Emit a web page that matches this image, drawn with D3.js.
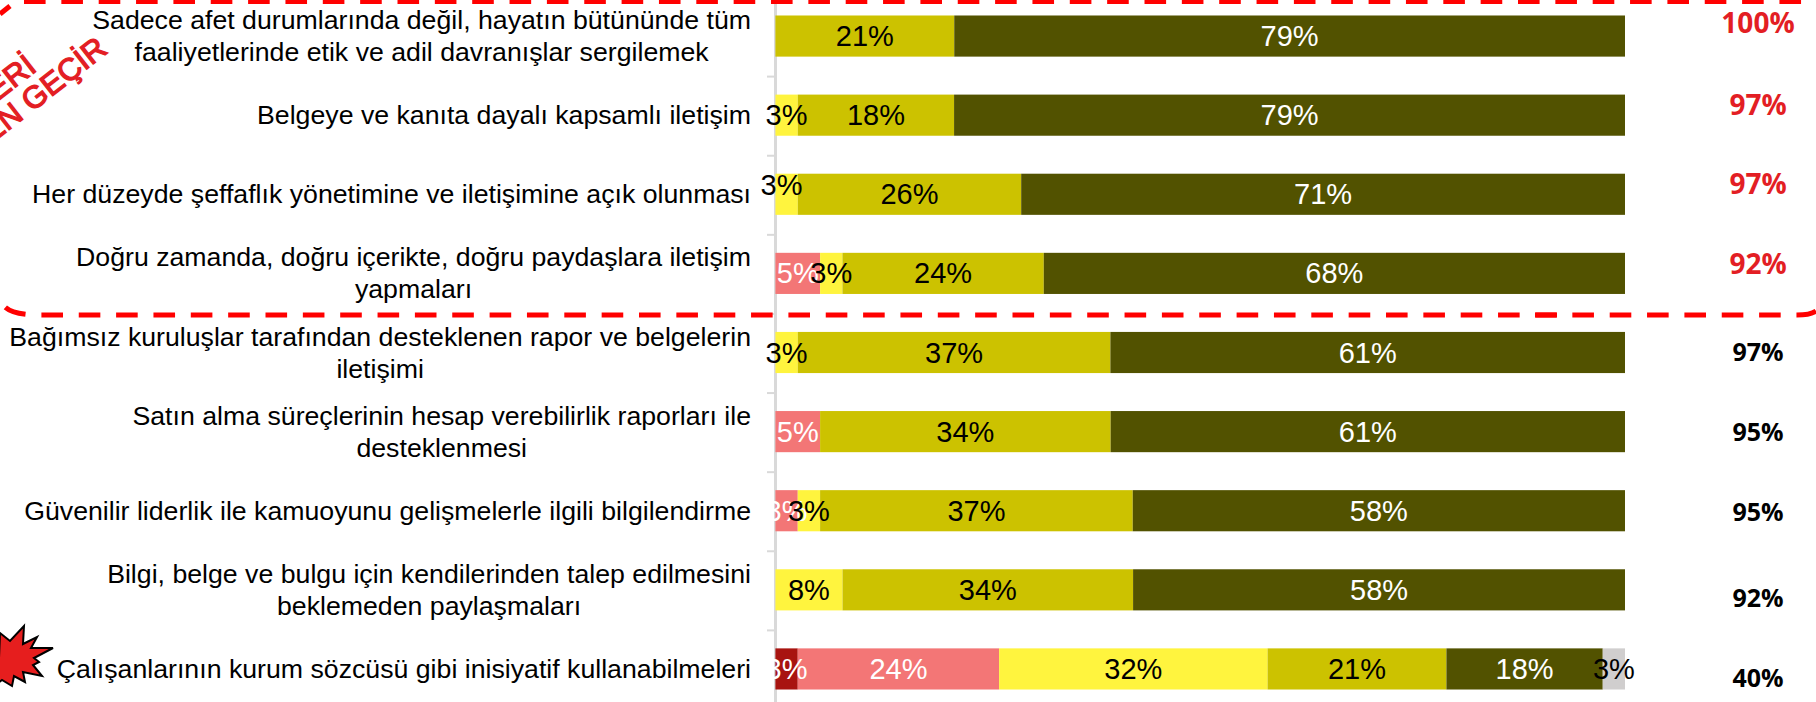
<!DOCTYPE html>
<html><head><meta charset="utf-8">
<script src="https://cdn.jsdelivr.net/npm/d3@7"></script>
<style>html,body{margin:0;padding:0;background:#fff;overflow:hidden}svg{display:block}</style>
</head><body><svg id="c" width="1816" height="702"></svg>
<script>
const categories = [
  ["Sadece afet durumlarında değil, hayatın bütününde tüm","faaliyetlerinde etik ve adil davranışlar sergilemek"],
  ["Belgeye ve kanıta dayalı kapsamlı iletişim"],
  ["Her düzeyde şeffaflık yönetimine ve iletişimine açık olunması"],
  ["Doğru zamanda, doğru içerikte, doğru paydaşlara iletişim","yapmaları"],
  ["Bağımsız kuruluşlar tarafından desteklenen rapor ve belgelerin","iletişimi"],
  ["Satın alma süreçlerinin hesap verebilirlik raporları ile","desteklenmesi"],
  ["Güvenilir liderlik ile kamuoyunu gelişmelerle ilgili bilgilendirme"],
  ["Bilgi, belge ve bulgu için kendilerinden talep edilmesini","beklemeden paylaşmaları"],
  ["Çalışanlarının kurum sözcüsü gibi inisiyatif kullanabilmeleri"]
];
const seriesA = [0,0,0,0,0,0,0,0,2.63];
const seriesB = [0,0,0,5.26,0,5.26,2.63,0,23.7];
const seriesC = [0,2.63,2.63,2.63,2.63,0,2.63,7.9,31.6];
const seriesD = [21.05,18.4,26.3,23.7,36.8,34.2,36.8,34.2,21.05];
const seriesE = [78.95,78.97,71.07,68.41,60.57,60.54,57.94,57.9,18.4];
const seriesF = [0,0,0,0,0,0,0,0,2.62];
const totals = ["100%","97%","97%","92%","97%","95%","95%","92%","40%"];
const totalOffsets = [-13,-10,-10,-9,-1,0.5,1.5,8,9];
const seriesColors = ["#A81410","#F37676","#FFF43E","#CCC200","#525200","#D0CECE"];
const labelColors = ["#fff","#fff","#000","#000","#fff","#000"];
const allSeries = [seriesA,seriesB,seriesC,seriesD,seriesE,seriesF];

const svg = d3.select("#c");
const x = d3.scaleLinear().domain([0,100]).range([775.4,1625]);
const y = d3.scaleBand().domain(d3.range(categories.length)).range([-3.5,708.5]).paddingInner(0.48).paddingOuter(0.24);
const tickY = d3.scaleLinear().domain([0,9]).range([-3,709]);
const ARIAL = "'Liberation Sans',Arial,sans-serif";

// axis
const ax = svg.append("g").attr("transform","translate(775,0)")
  .call(d3.axisLeft(tickY).ticks(9).tickSize(8).tickFormat(""));
ax.selectAll("line").attr("stroke","#D9D9D9").attr("stroke-width",2);
ax.select(".domain").attr("stroke","#D9D9D9").attr("stroke-width",3);

// bars
const rows = categories.map((c,i)=>{let acc=0;return allSeries.map((s,k)=>{const d={row:i,k,start:acc,v:s[i]};acc+=s[i];return d;}).filter(d=>d.v>0);});
svg.append("g").selectAll("g").data(rows).join("g").selectAll("rect").data(d=>d).join("rect")
  .attr("x",d=>x(d.start)).attr("width",d=>x(d.start+d.v)-x(d.start))
  .attr("y",d=>y(d.row)).attr("height",y.bandwidth())
  .attr("fill",d=>seriesColors[d.k]);
// value labels
svg.append("g").selectAll("g").data(rows).join("g").selectAll("text").data(d=>d).join("text")
  .attr("x",d=>x(d.start+d.v/2)-((d.row===2&&d.k===2)?5:0))
  .attr("y",d=>y(d.row)+y.bandwidth()/2+10-((d.row===2&&d.k===2)?9:0))
  .attr("text-anchor","middle").attr("font-family",ARIAL).attr("font-size",29)
  .attr("fill",d=>labelColors[d.k]).text(d=>d3.format(".0f")(d.v)+"%");

// category labels
const cat = svg.append("g").selectAll("text").data(categories).join("text")
  .attr("font-family",ARIAL).attr("font-size",26.7).attr("fill","#000").attr("text-anchor","middle");
cat.each(function(lines,i){
  const t=d3.select(this), cy=y(i)+y.bandwidth()/2;
  lines.forEach((l,j)=>t.append("tspan").attr("x",0).attr("y",cy+9-(lines.length-1)*16+j*32).text(l));
  const w=this.getBBox().width;
  t.selectAll("tspan").attr("x",751-w/2);
});

// totals
svg.append("g").selectAll("text").data(totals).join("text")
  .attr("x",1758).attr("y",(d,i)=>y(i)+y.bandwidth()/2+totalOffsets[i]+(i<4?10:9))
  .attr("text-anchor","middle")
  .attr("font-family","'Open Sans',sans-serif")
  .attr("font-weight",700).attr("font-size",(d,i)=>i<4?28:25)
  .attr("fill",(d,i)=>i<4?"#E31E24":"#000").text(d=>d);

// dashed callout
const dash = {stroke:"#FF0000","stroke-width":5,fill:"none","stroke-dasharray":"21.6 15.75"};
const bottom = svg.append("path").attr("d","M1557,315 H40 Q12,315 4,306");
const right = svg.append("path").attr("d","M1535,315 H1797 Q1810,315 1816,311");
const top_ = svg.append("path").attr("d","M24,1.5 H1816");
const tl = svg.append("path").attr("d","M10,6 L0,14");
[bottom,right,top_,tl].forEach(p=>Object.entries(dash).forEach(([k,v])=>p.attr(k,v)));

// rotated note
const note = svg.append("g").attr("font-family",ARIAL).attr("font-size",31).attr("font-weight",400)
  .attr("stroke","#E31E24").attr("stroke-width",1.3).attr("fill","#E31E24").attr("text-anchor","end");
note.append("text").attr("transform","translate(38,70) rotate(-38)").text("ERİ");
note.append("text").attr("transform","translate(109,52) rotate(-38)").text("EN GEÇİR");

// starburst
svg.append("polygon")
  .attr("points","0,633 10,641 24,626 23,644 37,637 31,648 53,648 34,658 39,662 33,665 42,676 23,672 25,682 14,676 12,686 2,680 -2,683")
  .attr("fill","#E61E1E").attr("stroke","#000").attr("stroke-width",2);
</script></body></html>
